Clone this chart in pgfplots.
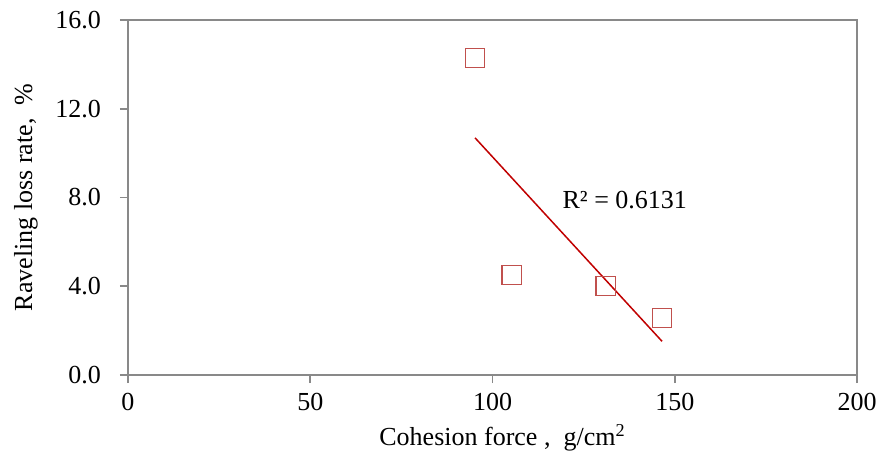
\documentclass[border=0pt]{standalone}
\usepackage{fontspec}
\setmainfont{Liberation Serif}
\usepackage{pgfplots}
\pgfplotsset{compat=1.18}
\definecolor{framegray}{HTML}{898989}
\definecolor{markred}{HTML}{C0504D}
\definecolor{trendred}{HTML}{C00000}
\begin{document}
\begin{tikzpicture}
\useasboundingbox (-64pt,-40pt) rectangle (374.5pt,187.5pt);
\begin{axis}[
  at={(0,0)}, anchor=south west,
  scale only axis,
  width=364.5pt, height=177.5pt,
  xmin=0, xmax=200, ymin=0, ymax=16,
  xtick={0,50,100,150,200},
  ytick={0,4,8,12,16},
  axis line style={framegray, line width=0.8pt},
  tick style={framegray, line width=0.8pt},
  tick align=outside,
  major tick length=4pt,
  xtick pos=bottom, ytick pos=left,
  /pgf/number format/assume math mode=true,
  yticklabel style={/pgf/number format/fixed, /pgf/number format/fixed zerofill, /pgf/number format/precision=1, xshift=-6pt},
  ticklabel style={font=\fontsize{13pt}{15pt}\selectfont},
  label style={font=\fontsize{13pt}{15pt}\selectfont},
  xlabel={Cohesion force ,\ \ g/cm\textsuperscript{2}},
  ylabel={Raveling loss rate,\ \ \%},
  xticklabel style={yshift=-1.5pt},
  xlabel style={yshift=0pt, xshift=5pt},
  ylabel style={yshift=2pt},
  clip=false,
]
\addplot[only marks, mark=square, mark size=4.8pt, mark options={draw=markred, line width=0.8pt}]
  coordinates {(95.2,14.29) (105.3,4.51) (131.1,4.01) (146.5,2.57)};
\addplot[trendred, line width=0.75pt] coordinates {(95.2,10.69) (146.5,1.52)};
\node[anchor=west, font=\fontsize{13pt}{15pt}\selectfont] at (axis cs:117.3,7.9) {R² = 0.6131};
\end{axis}
\end{tikzpicture}
\end{document}
